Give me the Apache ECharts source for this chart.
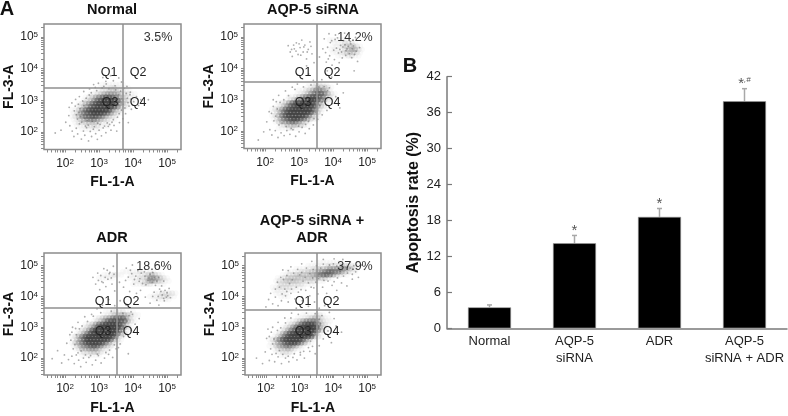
<!DOCTYPE html>
<html>
<head>
<meta charset="utf-8">
<script src="https://cdn.jsdelivr.net/npm/echarts@6/dist/echarts.min.js"></script>
<style>
  html, body { margin: 0; padding: 0; background: #fff; }
  #main { width: 788px; height: 416px; }
</style>
</head>
<body>
<div id="main"></div>
<script>
// bar chart (panel B)
const barCategories = ['Normal', 'AQP-5\nsiRNA', 'ADR', 'AQP-5\nsiRNA + ADR'];
const barValues = [3.5, 14.2, 18.6, 37.9];
const barErrorTops = [3.9, 15.5, 20.0, 40.0];
const barMarks = ['', '*', '*', '*{h|,#}'];

// flow panels (panel A), values are log10 of the fluorescence
const panelTitles = ['Normal', 'AQP-5 siRNA', 'ADR', 'AQP-5 siRNA +\nADR'];
const panelPercents = ['3.5%', '14.2%', '18.6%', '37.9%'];
const gateX = [3.70, 3.53, 3.53, 3.50];
const gateY = [3.39, 3.56, 3.63, 3.56];
const decades = [2, 3, 4, 5];
const quadrants = ['Q1', 'Q2', 'Q3', 'Q4'];

// density: [log y, first log x, densities every 0.1 in x]
const normalDensity = [
  [3.5, 3.1, [1, 1, 1, 1, 1, 1, 1]],
  [3.4, 3.0, [1, 1, 1, 2, 2, 1, 1, 1, 1]],
  [3.3, 2.9, [1, 1, 2, 2, 3, 3, 3, 2, 2, 1, 1]],
  [3.2, 2.7, [1, 1, 2, 3, 4, 5, 5, 5, 4, 3, 2, 2, 1, 1]],
  [3.1, 2.6, [1, 2, 3, 5, 6, 7, 8, 8, 7, 6, 4, 3, 2, 1, 1]],
  [3.0, 2.5, [1, 2, 3, 5, 7, 8, 9, 9, 9, 8, 7, 5, 3, 2, 1, 1]],
  [2.9, 2.4, [1, 2, 4, 5, 7, 8, 9, 9, 9, 9, 9, 7, 5, 3, 2, 1]],
  [2.8, 2.3, [1, 2, 3, 5, 7, 8, 9, 9, 9, 9, 9, 8, 6, 3, 2, 1]],
  [2.7, 2.2, [1, 1, 3, 5, 7, 8, 9, 9, 9, 9, 9, 8, 5, 3, 2, 1]],
  [2.6, 2.2, [1, 2, 4, 6, 7, 8, 9, 9, 9, 8, 7, 5, 3, 2, 1]],
  [2.5, 2.2, [1, 2, 4, 5, 7, 7, 8, 8, 7, 6, 4, 3, 2, 1]],
  [2.4, 2.2, [1, 1, 3, 4, 5, 6, 6, 5, 4, 3, 2, 1, 1]],
  [2.3, 2.3, [1, 2, 2, 3, 3, 3, 3, 2, 1, 1, 1]],
  [2.2, 2.3, [1, 1, 1, 2, 2, 2, 2, 1, 1, 1]],
  [2.1, 2.5, [1, 1, 1, 1, 1, 1]]
];
const sirnaDensity = [
  [4.9, 3.9, [1, 1, 1, 1, 1, 1]],
  [4.8, 4.0, [1, 1, 1, 2, 2, 2, 1]],
  [4.7, 4.0, [1, 1, 1, 2, 3, 3, 3, 2, 1]],
  [4.6, 3.9, [1, 1, 1, 1, 2, 3, 4, 4, 2, 1]],
  [4.5, 4.0, [1, 1, 1, 2, 3, 3, 3, 2, 1]],
  [4.4, 4.1, [1, 1, 1, 2, 2, 1, 1]],
  [3.5, 3.3, [1, 1, 2, 2, 1, 1]],
  [3.4, 3.2, [1, 1, 2, 3, 3, 3, 2, 1]],
  [3.3, 3.0, [1, 1, 2, 3, 4, 6, 6, 5, 3, 1]],
  [3.2, 2.9, [1, 1, 2, 3, 5, 6, 7, 7, 6, 4, 2, 1]],
  [3.1, 2.7, [1, 1, 2, 3, 5, 6, 7, 8, 8, 7, 6, 3, 2, 1]],
  [3.0, 2.6, [1, 2, 3, 5, 6, 7, 8, 9, 9, 8, 6, 4, 2, 1]],
  [2.9, 2.4, [1, 2, 3, 5, 7, 8, 9, 9, 9, 9, 8, 6, 4, 2, 1]],
  [2.8, 2.3, [1, 1, 3, 5, 7, 8, 9, 9, 9, 9, 9, 8, 5, 3, 2, 1]],
  [2.7, 2.2, [1, 2, 3, 5, 7, 8, 9, 9, 9, 9, 9, 9, 7, 4, 2, 1]],
  [2.6, 2.2, [1, 2, 4, 6, 8, 9, 9, 9, 9, 9, 9, 8, 5, 3, 1]],
  [2.5, 2.2, [1, 2, 4, 6, 8, 9, 9, 9, 9, 9, 8, 6, 3, 2, 1]],
  [2.4, 2.2, [1, 2, 4, 6, 7, 8, 9, 9, 8, 7, 5, 3, 2, 1]],
  [2.3, 2.3, [1, 3, 4, 5, 6, 7, 6, 5, 3, 2, 1]],
  [2.2, 2.4, [1, 2, 3, 3, 4, 3, 3, 2, 1]],
  [2.1, 2.4, [1, 1, 1, 2, 2, 1, 1]]
];
const adrDensity = [
  [4.8, 3.7, [1, 1, 1, 1, 1, 2, 1, 1, 1, 1]],
  [4.7, 3.1, [1, 1, 1, 2, 1, 1, 0, 0, 1, 1, 1, 1, 2, 3, 4, 3, 2, 1]],
  [4.6, 3.0, [1, 1, 1, 1, 1, 0, 0, 0, 0, 1, 1, 1, 2, 2, 3, 5, 5, 4, 3, 2, 1]],
  [4.5, 4.0, [1, 1, 1, 2, 4, 5, 4, 3, 2, 1, 1]],
  [4.4, 4.0, [1, 1, 1, 2, 2, 2, 1, 1, 1, 1]],
  [4.1, 4.6, [1, 1, 2, 2, 2, 2, 1]],
  [4.0, 4.5, [1, 1, 1, 2, 2, 2, 1, 1]],
  [3.9, 4.6, [1, 1, 1, 1, 1]],
  [3.5, 3.2, [1, 1, 2, 2, 2, 2, 1, 1, 1]],
  [3.4, 3.1, [1, 1, 2, 3, 3, 4, 4, 3, 2, 1, 1]],
  [3.3, 2.9, [1, 2, 3, 4, 5, 6, 7, 7, 7, 4, 2, 1]],
  [3.2, 2.8, [1, 2, 3, 5, 7, 8, 8, 8, 7, 7, 4, 2, 1]],
  [3.1, 2.6, [1, 2, 3, 5, 7, 8, 9, 9, 9, 9, 8, 6, 3, 1]],
  [3.0, 2.5, [1, 2, 3, 5, 7, 9, 9, 9, 9, 9, 9, 7, 4, 2, 1]],
  [2.9, 2.4, [1, 2, 3, 5, 8, 9, 9, 9, 9, 9, 9, 9, 6, 3, 1]],
  [2.8, 2.3, [1, 2, 4, 6, 8, 9, 9, 9, 9, 9, 9, 9, 7, 4, 2, 1]],
  [2.7, 2.2, [1, 2, 4, 6, 8, 9, 9, 9, 9, 9, 9, 9, 8, 5, 2, 1]],
  [2.6, 2.2, [1, 3, 5, 7, 9, 9, 9, 9, 9, 9, 9, 7, 4, 2, 1]],
  [2.5, 2.2, [1, 3, 5, 6, 8, 9, 9, 9, 9, 8, 6, 4, 2, 1, 1]],
  [2.4, 2.2, [1, 2, 4, 5, 6, 7, 8, 7, 6, 4, 3, 2, 1]],
  [2.3, 2.3, [1, 2, 4, 4, 5, 5, 5, 3, 2, 1, 1]],
  [2.2, 2.4, [1, 2, 2, 3, 3, 3, 2, 1, 1]],
  [2.1, 2.5, [1, 1, 1, 1, 1, 1]]
];
const comboDensity = [
  [5.1, 3.5, [1, 1, 1, 1, 1, 1, 1, 1]],
  [5.0, 3.2, [1, 1, 1, 1, 1, 1, 2, 2, 2, 2, 3, 3, 2, 2, 1, 1]],
  [4.9, 2.9, [1, 1, 1, 1, 1, 2, 2, 3, 3, 4, 5, 5, 5, 5, 5, 4, 3, 2, 1]],
  [4.8, 2.6, [1, 1, 1, 1, 2, 2, 3, 3, 3, 4, 5, 6, 7, 7, 6, 6, 5, 3, 2, 1, 1]],
  [4.7, 2.5, [1, 1, 2, 2, 3, 3, 3, 3, 3, 4, 5, 6, 7, 7, 6, 5, 3, 2, 1, 1]],
  [4.6, 2.3, [1, 1, 2, 3, 3, 3, 3, 3, 3, 3, 3, 3, 3, 3, 3, 2, 1]],
  [4.5, 2.3, [1, 2, 2, 3, 3, 3, 3, 2, 2, 2, 2, 2, 1, 1, 1]],
  [4.4, 2.3, [1, 2, 2, 2, 2, 2, 2, 2, 1, 1, 1, 1]],
  [4.3, 2.2, [1, 1, 2, 2, 2, 2, 1, 1, 1, 1]],
  [4.2, 2.2, [1, 1, 1, 1, 1, 1, 1]],
  [4.1, 2.3, [1, 1, 1, 1]],
  [4.0, 2.4, [1, 1, 1]],
  [3.4, 3.1, [1, 1, 1, 1, 2, 2, 1]],
  [3.3, 2.9, [1, 1, 1, 2, 3, 4, 3, 2, 1, 1]],
  [3.2, 2.7, [1, 1, 2, 3, 5, 6, 6, 6, 5, 3, 2, 1, 1]],
  [3.1, 2.6, [1, 2, 3, 5, 7, 8, 9, 9, 8, 6, 3, 2, 1]],
  [3.0, 2.5, [1, 2, 3, 5, 7, 8, 9, 9, 9, 9, 7, 4, 2, 1]],
  [2.9, 2.4, [1, 2, 4, 6, 7, 9, 9, 9, 9, 9, 9, 6, 3, 1]],
  [2.8, 2.3, [1, 2, 4, 6, 8, 9, 9, 9, 9, 9, 9, 7, 3, 1]],
  [2.7, 2.2, [1, 2, 4, 6, 8, 9, 9, 9, 9, 9, 9, 8, 4, 2, 1]],
  [2.6, 2.1, [1, 2, 4, 6, 8, 9, 9, 9, 9, 9, 7, 5, 2, 1]],
  [2.5, 2.1, [1, 2, 4, 5, 7, 8, 9, 9, 8, 6, 4, 2, 1]],
  [2.4, 2.1, [1, 1, 3, 4, 5, 6, 6, 5, 4, 2, 1]],
  [2.3, 2.2, [1, 2, 3, 3, 4, 3, 2, 1, 1]],
  [2.2, 2.3, [1, 1, 2, 2, 2, 1]],
  [2.1, 2.4, [1, 1, 1]]
];

// stray events around the clouds, [log x, log y]
const normalDots = [
  [1.71, 1.97], [1.88, 2.06], [2.02, 2.31], [2.11, 2.52], [2.14, 2.2], [2.21, 2.03], [2.26, 1.86], [2.33, 2.12],
  [2.37, 1.94], [2.42, 2.26], [2.48, 1.78], [2.54, 2.03], [2.58, 1.9], [2.63, 2.14], [2.69, 1.72], [2.74, 2.02],
  [2.78, 1.86], [2.83, 2.09], [2.9, 1.95], [2.95, 1.77], [3.0, 2.06], [3.07, 1.88], [3.12, 2.13], [3.2, 1.98],
  [3.27, 2.18], [3.35, 2.06], [3.44, 2.21], [3.52, 2.03], [3.6, 2.3], [3.7, 2.42], [3.78, 2.58], [3.86, 2.3],
  [3.95, 2.72], [4.02, 2.96], [4.1, 3.12], [4.16, 2.84], [4.23, 3.02], [3.92, 3.26], [3.82, 3.44], [3.66, 3.58],
  [3.58, 3.71], [3.42, 3.62], [3.34, 3.78], [3.2, 3.6], [3.11, 3.72], [2.98, 3.54], [2.84, 3.5], [2.72, 3.36],
  [2.55, 3.28], [2.42, 3.12], [2.31, 3.03], [2.2, 2.92], [2.12, 2.78], [4.9, 5.08], [4.7, 4.93], [4.45, 3.02],
  [2.41, 2.62], [2.93, 3.31], [3.57, 3.18], [2.36, 2.41], [3.71, 2.88], [2.62, 3.07], [3.83, 3.07], [2.27, 2.67],
  [3.14, 3.44], [3.66, 2.69], [2.49, 2.31], [3.38, 2.31], [2.77, 3.24], [3.91, 3.18], [2.33, 2.55], [3.49, 3.33],
  [2.68, 2.22], [3.76, 2.76], [3.03, 2.24], [2.55, 2.83], [3.63, 3.29], [2.44, 2.74], [3.24, 2.29], [3.85, 2.93],
  [2.86, 2.17], [3.29, 3.37], [2.58, 2.44], [3.54, 2.47], [2.39, 2.88], [3.94, 3.04], [2.96, 2.28], [3.73, 3.38],
  [2.71, 3.17], [3.16, 2.19], [3.42, 2.39], [2.52, 2.98], [3.88, 2.82], [2.8, 2.33], [3.68, 3.05], [2.46, 2.49],
  [3.09, 3.39], [3.31, 2.24], [2.65, 2.36], [3.59, 2.58], [3.8, 3.22], [2.3, 2.82], [2.89, 3.41], [3.47, 3.46],
  [2.6, 2.19], [3.21, 3.52]
];
const sirnaDots = [
  [1.8, 1.72], [1.96, 1.98], [2.05, 2.3], [2.12, 2.62], [2.14, 2.05], [2.2, 1.88], [2.3, 2.02], [2.38, 1.8],
  [2.47, 1.95], [2.56, 1.86], [2.64, 2.02], [2.73, 1.9], [2.82, 2.05], [2.9, 1.84], [3.0, 1.98], [3.09, 2.12],
  [3.18, 1.93], [3.3, 2.08], [3.42, 2.2], [3.55, 2.38], [3.68, 2.52], [3.82, 2.66], [3.97, 2.88], [4.08, 3.1],
  [4.2, 2.74], [4.3, 3.22], [4.12, 3.5], [3.96, 3.72], [3.83, 3.92], [3.67, 3.64], [3.42, 3.62], [3.28, 3.82],
  [3.1, 3.66], [2.95, 3.5], [2.8, 3.4], [2.6, 3.28], [2.4, 3.14], [2.24, 3.0], [2.68, 4.72], [2.74, 4.52],
  [2.8, 4.38], [2.86, 4.62], [2.92, 4.81], [2.97, 4.44], [3.03, 4.66], [3.08, 4.9], [3.12, 4.52], [3.17, 4.74],
  [3.22, 4.3], [3.27, 4.6], [3.32, 4.84], [3.38, 4.46], [3.22, 4.08], [3.44, 4.18], [3.6, 4.36], [3.7, 4.62],
  [3.74, 4.94], [3.8, 4.2], [3.88, 5.1], [3.97, 4.1], [4.07, 5.06], [4.18, 4.18], [4.34, 5.12], [4.55, 4.34],
  [4.72, 4.22], [4.78, 4.66], [4.66, 4.98], [4.62, 3.92], [3.9, 4.4], [4.04, 4.28],
  [2.31, 2.48], [2.88, 3.33], [3.52, 3.02], [2.26, 2.33], [3.47, 2.61], [2.55, 3.0], [3.72, 3.18], [2.19, 2.57],
  [3.13, 3.41], [3.61, 2.82], [2.41, 2.2], [3.28, 2.31], [2.69, 3.13], [3.83, 3.29], [2.24, 2.79], [3.58, 3.41],
  [2.62, 2.15], [3.68, 2.93], [2.98, 2.16], [2.44, 2.92], [3.74, 3.42], [2.36, 2.71], [3.19, 2.22], [3.77, 3.04],
  [2.77, 2.09], [3.35, 3.47], [2.5, 2.26], [3.44, 2.4], [2.33, 2.94], [3.89, 3.38],
  [3.92, 4.82], [4.13, 4.97], [4.37, 4.41], [4.22, 4.73], [4.51, 4.85], [4.02, 4.58], [4.41, 4.62], [4.27, 4.33],
  [4.6, 4.71], [3.84, 4.67], [4.16, 4.49], [4.48, 4.47], [3.96, 4.88], [4.31, 4.88], [4.68, 4.55], [4.1, 4.64],
  [4.56, 4.62], [4.25, 4.52], [4.35, 4.75], [4.45, 4.7], [3.78, 4.5], [4.06, 4.92], [4.2, 4.6], [4.63, 4.44],
  [3.86, 4.3], [4.38, 4.56], [4.52, 4.78], [4.29, 4.68],
  [2.91, 4.55], [3.05, 4.42], [3.14, 4.68], [2.84, 4.74], [3.24, 4.52], [3.0, 4.78], [3.35, 4.7], [2.78, 4.6]
];
const adrDots = [
  [1.62, 1.98], [1.78, 2.24], [1.9, 1.84], [1.98, 2.1], [2.05, 2.48], [2.1, 1.95], [2.14, 2.76], [2.2, 2.06],
  [2.27, 1.82], [2.33, 2.1], [2.4, 1.93], [2.46, 1.72], [2.54, 2.0], [2.62, 1.86], [2.7, 2.02], [2.8, 1.78],
  [2.9, 1.93], [2.98, 2.08], [3.06, 1.84], [3.16, 2.0], [3.28, 2.12], [3.4, 2.02], [3.5, 2.3], [3.62, 2.46],
  [3.72, 2.7], [3.86, 2.14], [3.95, 2.9], [4.06, 3.1], [4.18, 3.28], [3.94, 3.5], [3.8, 3.72], [3.62, 3.86],
  [3.46, 3.7], [3.28, 3.9], [3.1, 3.72], [2.94, 3.6], [2.78, 3.42], [2.58, 3.34], [2.38, 3.16], [2.22, 3.0],
  [2.82, 4.62], [2.9, 4.4], [2.96, 4.76], [3.02, 4.22], [3.08, 4.48], [3.14, 4.9], [3.2, 4.32], [3.26, 4.56],
  [3.32, 4.78], [3.38, 4.4], [3.42, 4.98], [3.46, 4.18], [3.6, 4.46], [3.72, 4.3], [3.8, 4.92], [3.9, 4.16],
  [3.98, 5.02], [4.1, 4.1], [4.22, 4.2], [4.36, 3.98], [4.44, 5.0], [4.5, 3.78], [4.66, 4.36], [4.76, 3.72],
  [4.84, 4.34], [4.92, 3.86], [5.0, 4.12], [5.06, 4.26], [4.98, 3.98], [5.1, 3.96], [4.75, 4.62], [4.9, 4.5],
  [2.29, 2.44], [2.83, 3.36], [3.61, 3.12], [2.24, 2.3], [3.52, 2.63], [2.5, 3.04], [3.78, 3.28], [2.17, 2.58],
  [3.05, 3.47], [3.66, 2.86], [2.38, 2.17], [3.31, 2.26], [2.66, 3.19], [3.88, 3.38], [2.2, 2.84], [3.7, 3.46],
  [2.6, 2.1], [3.74, 2.98], [2.95, 2.13], [2.42, 2.95], [3.82, 3.2], [2.33, 2.76], [3.2, 2.18], [3.57, 2.34],
  [2.75, 2.08], [3.36, 3.52], [2.47, 2.23], [3.45, 2.43], [2.31, 2.96], [3.98, 3.42],
  [3.96, 4.74], [4.14, 4.84], [4.38, 4.38], [4.24, 4.76], [4.5, 4.72], [4.04, 4.55], [4.44, 4.52], [4.28, 4.42],
  [4.62, 4.62], [3.86, 4.63], [4.18, 4.49], [4.56, 4.46], [3.92, 4.85], [4.33, 4.8], [4.7, 4.5], [4.08, 4.66],
  [4.58, 4.78], [4.2, 4.58], [4.35, 4.66], [4.47, 4.6], [3.78, 4.52], [4.02, 4.4],
  [4.62, 4.14], [4.74, 4.0], [4.82, 4.16], [4.7, 3.88], [4.86, 4.05], [4.94, 4.2], [4.78, 4.24], [4.58, 4.0],
  [4.9, 3.94], [5.02, 4.02],
  [3.05, 4.68], [3.18, 4.62], [3.3, 4.74], [3.36, 4.6], [3.12, 4.45], [3.24, 4.85], [3.44, 4.72], [2.98, 4.52]
];
const comboDots = [
  [1.72, 2.0], [1.9, 1.82], [1.98, 2.2], [2.02, 2.64], [2.06, 2.94], [2.1, 1.92], [2.18, 2.12], [2.26, 1.88],
  [2.36, 2.04], [2.46, 1.82], [2.58, 2.0], [2.68, 1.88], [2.8, 2.02], [2.92, 1.94], [3.02, 2.1], [3.14, 2.0],
  [3.3, 2.22], [3.46, 2.14], [3.58, 2.4], [3.7, 2.62], [3.84, 2.88], [3.94, 2.5], [4.08, 3.04], [4.24, 2.84],
  [4.02, 3.28], [3.88, 3.48], [3.74, 3.7], [3.58, 3.62], [3.44, 3.82], [3.26, 3.68], [3.08, 3.86], [2.9, 3.62],
  [2.76, 3.46], [2.56, 3.3], [2.36, 3.16], [2.2, 3.0], [2.0, 3.66], [2.08, 3.9], [2.14, 4.1], [2.2, 3.76],
  [2.28, 3.98], [2.36, 3.7], [2.46, 3.86], [2.58, 4.02], [2.66, 3.82], [2.74, 4.1], [2.86, 3.92], [2.96, 4.14],
  [3.06, 3.98], [3.18, 4.2], [3.3, 4.02], [3.42, 4.28], [3.54, 4.08], [3.68, 4.3], [3.8, 4.1], [3.96, 4.36],
  [4.1, 4.2], [4.24, 4.44], [4.4, 4.34], [4.56, 4.56], [4.66, 4.8], [4.74, 4.62], [4.82, 5.02], [4.92, 4.88],
  [4.5, 5.12], [4.28, 5.2], [4.02, 5.22], [3.7, 5.2], [3.36, 5.14], [3.06, 5.06], [2.74, 4.96], [2.5, 4.86],
  [2.2, 2.46], [2.74, 3.3], [3.42, 3.18], [2.14, 2.3], [3.32, 2.55], [2.44, 2.98], [3.58, 3.26], [2.1, 2.7],
  [2.96, 3.42], [3.5, 2.84], [2.3, 2.15], [3.12, 2.22], [2.58, 3.14], [3.66, 3.38], [2.16, 2.84], [3.46, 3.44],
  [2.5, 2.12], [3.56, 3.0], [2.84, 2.14], [2.34, 2.9], [3.62, 3.12], [2.24, 2.62], [3.02, 2.18], [3.38, 2.38],
  [2.66, 2.06], [3.2, 3.46], [2.4, 2.24], [3.26, 2.34],
  [2.4, 4.3], [2.52, 4.55], [2.34, 4.46], [2.62, 4.68], [2.44, 4.62], [2.7, 4.42], [2.56, 4.24], [2.82, 4.76],
  [2.78, 4.54], [2.9, 4.3], [2.66, 4.84], [3.0, 4.7], [2.94, 4.88], [3.1, 4.5], [3.06, 4.78], [3.2, 4.92],
  [3.16, 4.62], [3.3, 4.74], [3.26, 4.44], [3.4, 4.88], [3.38, 4.6], [3.5, 5.0], [3.48, 4.46], [3.58, 4.72],
  [3.62, 4.92], [3.56, 4.58], [3.7, 5.05], [3.72, 4.52], [3.78, 4.66], [3.88, 5.02], [3.84, 4.5], [3.94, 4.66],
  [4.0, 5.06], [4.02, 4.48], [4.1, 4.98], [4.12, 4.6], [4.2, 4.82], [4.26, 5.02], [4.3, 4.66], [4.38, 4.94],
  [4.42, 4.76], [4.5, 4.92], [4.56, 4.72], [4.6, 5.0], [2.48, 4.08], [2.62, 4.16], [2.28, 4.24], [2.76, 4.24],
  [3.04, 4.22], [3.34, 4.3]
];

// panel boxes in the page
const boxes = [
  { left: 44, top: 24, width: 137, height: 125.5 },
  { left: 244, top: 24, width: 137, height: 124.5 },
  { left: 44, top: 253, width: 137, height: 125 },
  { left: 245, top: 253, width: 136, height: 125 }
];
const densities = [normalDensity, sirnaDensity, adrDensity, comboDensity];
const dots = [normalDots, sirnaDots, adrDots, comboDots];
const logMin = { x: 1.38, y: 1.45 };
const logMax = { x: 5.41, y: 5.41 };

const TEXT = '#222';
const LINE = '#8c8c8c';
const FONT = '"Liberation Sans", Arial, sans-serif';

// odd rows sit half a cell over so the cells don't read as a grid
function cellsFrom(rows) {
  const out = [];
  rows.forEach(function (row, r) {
    row[2].forEach(function (d, i) {
      if (d > 0) out.push([+(row[1] + i * 0.1 + (r % 2 ? 0.05 : 0)).toFixed(2), row[0], d]);
    });
  });
  return out;
}

// every log tick between min and max
const tickDigits = [1, 2, 3, 4, 5, 6, 7, 8, 9];
function logTicks(min, max) {
  const out = [];
  [1, 2, 3, 4, 5].forEach(function (dec) {
    tickDigits.forEach(function (m) {
      const v = dec + Math.log10(m);
      if (v >= min && v <= max) out.push(v);
    });
  });
  return out;
}

function logAxis(dim, gridIndex, name, nameGap) {
  return {
    type: 'value',
    gridIndex: gridIndex,
    min: logMin[dim],
    max: logMax[dim],
    name: name,
    nameLocation: 'middle',
    nameGap: nameGap,
    nameTextStyle: { color: '#111', fontFamily: FONT, fontWeight: 'bold', fontSize: 14 },
    splitLine: { show: false },
    axisLine: { show: false },
    axisTick: { show: true, length: 3, customValues: logTicks(logMin[dim], logMax[dim]), lineStyle: { color: LINE } },
    axisLabel: {
      customValues: decades,
      margin: dim === 'x' ? 8 : 6,
      color: TEXT,
      fontFamily: FONT,
      fontSize: 12,
      formatter: function (v) { return '10{s|' + v + '}'; },
      rich: { s: { fontSize: 8, verticalAlign: 'top', lineHeight: 12, color: TEXT } }
    }
  };
}

const grids = [], xAxes = [], yAxes = [], series = [], graphics = [];

function addText(x, y, text, size, weight, color) {
  graphics.push({
    type: 'text', x: x, y: y, z: 100, silent: true,
    style: {
      text: text, fill: color || TEXT, font: (weight || 'normal') + ' ' + size + 'px ' + FONT,
      textAlign: 'center', textVerticalAlign: 'middle', lineHeight: 17
    }
  });
}

boxes.forEach(function (box, i) {
  grids.push({ left: box.left, top: box.top, width: box.width, height: box.height, show: true, borderColor: LINE, borderWidth: 1.5, backgroundColor: '#fff' });
  xAxes.push(logAxis('x', i, 'FL-1-A', 26));
  yAxes.push(logAxis('y', i, 'FL-3-A', 24));
  series.push({
    type: 'scatter', xAxisIndex: i, yAxisIndex: i, silent: true,
    symbolSize: 6,
    itemStyle: { color: function (p) { return 'rgba(40,40,40,' + (Math.pow(p.data[2] / 9, 1.4) * 0.62).toFixed(3) + ')'; } },
    data: cellsFrom(densities[i])
  });
  series.push({
    type: 'scatter', xAxisIndex: i, yAxisIndex: i, silent: true,
    symbolSize: 1.8,
    itemStyle: { color: '#6a6a6a', opacity: 0.55 },
    data: dots[i],
    markLine: {
      silent: true, symbol: 'none', animation: false, label: { show: false },
      lineStyle: { color: '#8f8f8f', width: 1.5, type: 'solid' },
      data: [{ xAxis: gateX[i] }, { yAxis: gateY[i] }]
    }
  });
});

// panel captions
const titleAt = [[112, 10], [313, 10], [112, 238], [312, 229.5]];
panelTitles.forEach(function (t, i) { addText(titleAt[i][0], titleAt[i][1], t, 14.5, 'bold', '#111'); });
const percentAt = [[158, 38], [355, 38], [154, 267], [355, 267]];
panelPercents.forEach(function (t, i) { addText(percentAt[i][0], percentAt[i][1], t, 12.5, 'normal', '#333'); });
const quadrantAt = [
  [[109, 73], [138, 73], [110, 103], [138, 103]],
  [[303, 73], [332, 73], [303, 103], [332, 103]],
  [[103, 302], [131, 302], [103, 332], [131, 332]],
  [[303, 302], [331, 302], [303, 332], [331, 332]]
];
quadrantAt.forEach(function (pts) {
  pts.forEach(function (p, j) { addText(p[0], p[1], quadrants[j], 12.5, 'normal', '#222'); });
});
addText(7, 9, 'A', 20, 'bold', '#111');
addText(410, 66, 'B', 20, 'bold', '#111');

// panel B
grids.push({ left: 447, top: 76.7, width: 340, height: 251.6 });
xAxes.push({
  type: 'category', gridIndex: 4, data: barCategories,
  axisLine: { lineStyle: { color: '#7a7a7a', width: 1.5 } },
  axisTick: { show: false },
  axisLabel: { margin: 5, color: TEXT, fontFamily: FONT, fontSize: 13, lineHeight: 17, interval: 0 }
});
yAxes.push({
  type: 'value', gridIndex: 4, min: 0, max: 42, interval: 6,
  name: 'Apoptosis rate (%)', nameLocation: 'middle', nameGap: 25,
  nameTextStyle: { color: '#111', fontFamily: FONT, fontWeight: 'bold', fontSize: 16 },
  splitLine: { show: false },
  axisLine: { show: true, lineStyle: { color: '#7a7a7a', width: 1.5 } },
  axisTick: { show: true, inside: true, length: 5, lineStyle: { color: '#7a7a7a', width: 1.2 } },
  axisLabel: { margin: 6, color: TEXT, fontFamily: FONT, fontSize: 13 }
});
series.push({
  type: 'bar', xAxisIndex: 4, yAxisIndex: 4, barWidth: 43, silent: true,
  itemStyle: { color: '#000', borderColor: '#9a9a9a', borderWidth: 0.6 },
  data: barValues
});
series.push({
  type: 'custom', xAxisIndex: 4, yAxisIndex: 4, silent: true,
  data: barCategories.map(function (c, i) { return [i, barValues[i], barErrorTops[i]]; }),
  renderItem: function (params, api) {
    const base = api.coord([api.value(0), api.value(1)]);
    const top = api.coord([api.value(0), api.value(2)]);
    const style = { stroke: '#a8a8a8', lineWidth: 1.5 };
    return {
      type: 'group',
      children: [
        { type: 'line', shape: { x1: base[0], y1: base[1], x2: top[0], y2: top[1] }, style: style },
        { type: 'line', shape: { x1: top[0] - 2.5, y1: top[1], x2: top[0] + 2.5, y2: top[1] }, style: style },
        {
          type: 'text', x: top[0], y: top[1] - 5,
          style: {
            text: barMarks[params.dataIndex], fill: '#555', font: '15px ' + FONT, textAlign: 'center', textVerticalAlign: 'middle',
            rich: { h: { fontSize: 8, fontStyle: 'italic', verticalAlign: 'top', fill: '#555' } }
          }
        }
      ]
    };
  }
});

const myChart = echarts.init(document.getElementById('main'), null, { renderer: 'canvas' });
myChart.setOption({
  animation: false,
  backgroundColor: '#fff',
  grid: grids,
  xAxis: xAxes,
  yAxis: yAxes,
  graphic: { elements: graphics },
  series: series
});
</script>
</body>
</html>
